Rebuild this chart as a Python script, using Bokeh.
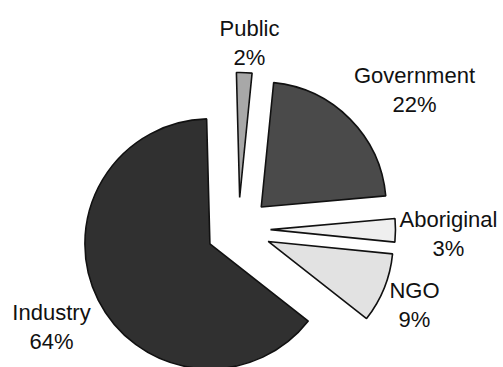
import numpy as np
from bokeh.plotting import figure
from bokeh.models import Range1d, ColumnDataSource
from bokeh.core.properties import value
from bokeh.embed import file_html
from bokeh.resources import INLINE

# ---- data ----
categories = ["Public", "Government", "Aboriginal", "NGO", "Industry"]
shares = [2, 22, 3, 9, 64]
pct_labels = ["2%", "22%", "3%", "9%", "64%"]

# ---- style / layout ----
colors = ["#a8a8a8", "#4a4a4a", "#efefef", "#e2e2e2", "#303030"]
W, H = 503, 367
CX, CY = 238, H - 229
R = 125
EXPLODE = 32
START_DEG = 91.5
label_x = [249, 414, 448, 414, 51]
label_base_screen = [28, 75, 219, 290, 312]
LINE_GAP = 29

frac = np.array(shares, dtype=float) / sum(shares)
ends = np.cumsum(frac) * 2 * np.pi
starts = ends - frac * 2 * np.pi
s0 = np.deg2rad(START_DEG)
a_hi = s0 - starts
a_lo = s0 - ends
mid = (a_hi + a_lo) / 2
xs = CX + EXPLODE * np.cos(mid)
ys = CY + EXPLODE * np.sin(mid)

src = ColumnDataSource(dict(x=xs, y=ys, start=a_lo, end=a_hi, color=colors, cat=categories))

p = figure(width=W, height=H, output_backend="svg", toolbar_location=None,
           x_range=Range1d(0, W), y_range=Range1d(0, H), min_border=0)
p.axis.visible = False
p.xgrid.visible = False
p.ygrid.visible = False
p.outline_line_color = None
p.background_fill_color = "white"
p.border_fill_color = "white"

p.wedge(x="x", y="y", radius=R, start_angle="start", end_angle="end",
        direction="anticlock", fill_color="color", line_color="#111111",
        line_width=1.6, source=src)

ly1 = [H - b for b in label_base_screen]
ly2 = [H - b - LINE_GAP for b in label_base_screen]
lsrc = ColumnDataSource(dict(x=label_x, y1=ly1, y2=ly2, name=categories, pct=pct_labels))
common = dict(text_font=value("Liberation Sans"), text_font_size="22px",
              text_color="#111111", text_align="center", text_baseline="alphabetic")
p.text(x="x", y="y1", text="name", source=lsrc, **common)
p.text(x="x", y="y2", text="pct", source=lsrc, **common)

open("out.html", "w").write(file_html(p, INLINE))
